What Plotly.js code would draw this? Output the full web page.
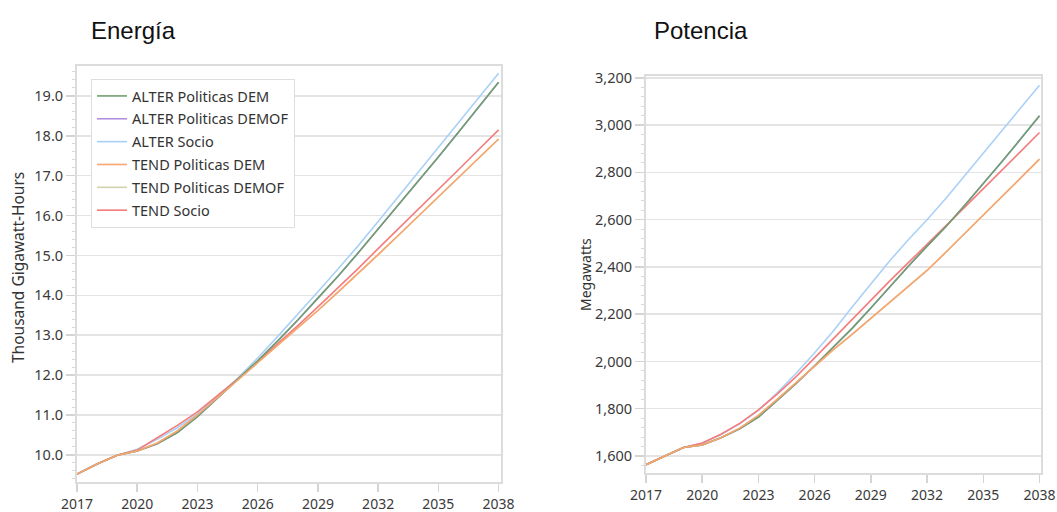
<!DOCTYPE html>
<html>
<head>
<meta charset="utf-8">
<script src="https://cdn.plot.ly/plotly-3.0.1.min.js"></script>
<style>
html,body{margin:0;padding:0;background:#fff;}
#chart{width:1057px;height:512px;}
</style>
</head>
<body>
<div id="chart"></div>
<script>
const years = [2017,2018,2019,2020,2021,2022,2023,2024,2025,2026,2027,2028,2029,2030,2031,2032,2033,2034,2035,2036,2037,2038];
const seriesNames = ["ALTER Politicas DEM","ALTER Politicas DEMOF","ALTER Socio","TEND Politicas DEM","TEND Politicas DEMOF","TEND Socio"];
const seriesColors = ["#6f9f6f","#b48ee0","#a9d1f7","#f8a56f","#d2d3aa","#f47c7c"];

// Energía (thousand GWh)
const energyAlterDem   = [9.52,9.77,9.99,10.10,10.28,10.56,10.96,11.42,11.89,12.36,12.86,13.38,13.93,14.48,15.06,15.66,16.26,16.86,17.47,18.09,18.71,19.34];
const energyAlterDemof = [9.52,9.77,9.99,10.10,10.28,10.56,10.96,11.42,11.89,12.36,12.86,13.38,13.93,14.48,15.06,15.66,16.26,16.86,17.47,18.09,18.71,19.34];
const energyAlterSocio = [9.52,9.77,9.99,10.14,10.39,10.68,11.03,11.46,11.92,12.43,12.97,13.52,14.09,14.66,15.24,15.85,16.47,17.09,17.70,18.32,18.95,19.57];
const energyTendDem    = [9.52,9.77,9.99,10.10,10.30,10.60,11.00,11.43,11.87,12.31,12.75,13.18,13.62,14.08,14.54,15.02,15.50,15.98,16.46,16.95,17.43,17.92];
const energyTendDemof  = [9.52,9.77,9.99,10.10,10.30,10.60,11.00,11.43,11.87,12.31,12.75,13.18,13.62,14.08,14.54,15.02,15.50,15.98,16.46,16.95,17.43,17.92];
const energyTendSocio  = [9.52,9.77,9.99,10.12,10.43,10.74,11.08,11.48,11.90,12.34,12.78,13.24,13.71,14.18,14.67,15.17,15.66,16.15,16.65,17.15,17.65,18.15];

// Potencia (MW)
const powerAlterDem   = [1563,1600,1636,1647,1677,1715,1765,1835,1906,1982,2062,2140,2226,2315,2403,2488,2570,2660,2752,2846,2942,3040];
const powerAlterDemof = [1563,1600,1636,1647,1677,1715,1765,1835,1906,1982,2062,2140,2226,2315,2403,2488,2570,2660,2752,2846,2942,3040];
const powerAlterSocio = [1563,1600,1636,1654,1691,1736,1793,1867,1949,2037,2129,2230,2330,2425,2515,2600,2690,2785,2880,2975,3072,3169];
const powerTendDem    = [1563,1600,1636,1647,1677,1718,1772,1840,1910,1982,2050,2115,2182,2250,2318,2385,2462,2540,2618,2697,2776,2856];
const powerTendDemof  = [1563,1600,1636,1647,1677,1718,1772,1840,1910,1982,2050,2115,2182,2250,2318,2385,2462,2540,2618,2697,2776,2856];
const powerTendSocio  = [1563,1600,1636,1655,1692,1738,1795,1862,1935,2015,2097,2178,2260,2340,2418,2494,2574,2652,2730,2809,2889,2969];

const energySeries = [energyAlterDem,energyAlterDemof,energyAlterSocio,energyTendDem,energyTendDemof,energyTendSocio];
const powerSeries  = [powerAlterDem,powerAlterDemof,powerAlterSocio,powerTendDem,powerTendDemof,powerTendSocio];

// draw order: DEMOF lines below DEM lines
const drawOrder = [1,4,2,5,0,3];
const traces = [];
drawOrder.forEach(i => {
  traces.push({
    x: years, y: energySeries[i], type:'scatter', mode:'lines',
    name: seriesNames[i], legendgroup: 'g'+i, legendrank: i+1,
    line:{color:seriesColors[i], width:1.6},
    xaxis:'x', yaxis:'y', showlegend:true
  });
});
drawOrder.forEach(i => {
  traces.push({
    x: years, y: powerSeries[i], type:'scatter', mode:'lines',
    name: seriesNames[i], legendgroup: 'g'+i,
    line:{color:seriesColors[i], width:1.6},
    xaxis:'x2', yaxis:'y2', showlegend:false
  });
});

const W = 1057, H = 512;
const FAM = '"Noto Sans", "Open Sans", sans-serif';
const xTickFont = {family:FAM, size:14, color:'#3a3a3a'};
const yTickFont = {family:FAM, size:14.5, color:'#3a3a3a'};
const axisLine = {showline:true, linecolor:'#dcdcdc', linewidth:2, mirror:true, zeroline:false};
const xCommon = Object.assign({}, axisLine, {
  tick0:2017, dtick:3, ticks:'outside', ticklen:8, tickwidth:1.5, tickcolor:'#d4d4d4',
  showgrid:false, tickfont:xTickFont, ticklabelstandoff:0
});
const yCommon = Object.assign({}, axisLine, {
  ticks:'outside', ticklen:9, tickwidth:1.5, tickcolor:'#d4d4d4',
  showgrid:true, gridcolor:'#e4e4e4', gridwidth:1.5, tickfont:yTickFont,
  minor:{ticks:'outside', ticklen:3, tickwidth:1, tickcolor:'#d8d8d8', showgrid:false}
});

const layout = {
  width:W, height:H,
  margin:{l:0,r:0,t:0,b:0},
  paper_bgcolor:'#ffffff', plot_bgcolor:'#ffffff',
  showlegend:true,
  xaxis: Object.assign({}, xCommon, {domain:[77/W, 501/W], range:[2017, 2038.12], anchor:'y'}),
  yaxis: Object.assign({}, yCommon, {domain:[30/H, 446/H], range:[9.32, 19.75], tick0:10, dtick:1, tickformat:'.1f', anchor:'x',
    minor:Object.assign({}, yCommon.minor, {dtick:0.2})}),
  xaxis2: Object.assign({}, xCommon, {domain:[646/W, 1041/W], range:[2017, 2038.08], anchor:'y2'}),
  yaxis2: Object.assign({}, yCommon, {domain:[39/H, 436/H], range:[1528, 3208], tick0:1600, dtick:200, tickformat:',d', anchor:'x2',
    minor:Object.assign({}, yCommon.minor, {dtick:40})}),
  legend:{
    x:91/W, y:1-79/H, xanchor:'left', yanchor:'top',
    bgcolor:'#ffffff', bordercolor:'#dedede', borderwidth:1,
    font:{family:FAM, size:14.5, color:'#333333'},
    traceorder:'grouped', tracegroupgap:1, itemwidth:30
  },
  annotations:[
    {text:'Energía', xref:'paper', yref:'paper', x:89/W, y:1-30/H, xanchor:'left', yanchor:'middle', showarrow:false,
     font:{family:'"Liberation Sans", Arial, sans-serif', size:24, color:'#111111'}},
    {text:'Potencia', xref:'paper', yref:'paper', x:652/W, y:1-30/H, xanchor:'left', yanchor:'middle', showarrow:false,
     font:{family:'"Liberation Sans", Arial, sans-serif', size:24, color:'#111111'}},
    {text:'Thousand Gigawatt-Hours', xref:'paper', yref:'paper', x:18/W, y:1-268/H, xanchor:'center', yanchor:'middle', textangle:-90, showarrow:false,
     font:{family:FAM, size:15.5, color:'#333333'}},
    {text:'Megawatts', xref:'paper', yref:'paper', x:585/W, y:1-275/H, xanchor:'center', yanchor:'middle', textangle:-90, showarrow:false,
     font:{family:FAM, size:14, color:'#333333'}}
  ]
};

Plotly.newPlot('chart', traces, layout, {staticPlot:true, displayModeBar:false});
</script>
</body>
</html>
